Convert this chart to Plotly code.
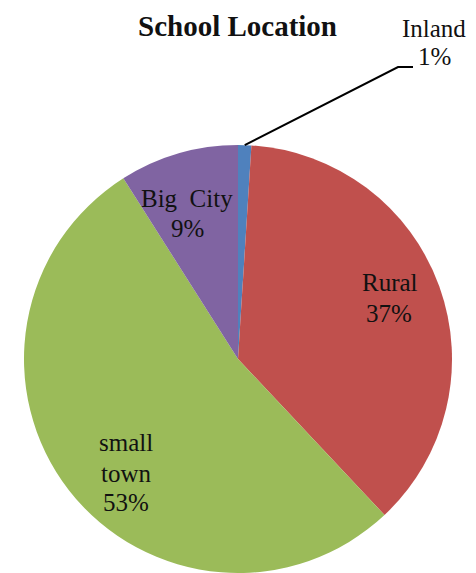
import math
import plotly.graph_objects as go

# School location shares (percent), in drawing order clockwise from 12 o'clock
categories = ["Inland", "Rural", "small town", "Big City"]
shares = [1, 37, 53, 9]
colors = ["#4F81BD", "#C0504D", "#9BBB59", "#8064A2"]

W, H = 476, 573

# Pie geometry in pixels
cx, cy, r = 238, 359, 214

SERIF = "serif"


def px(x, y):
    """Pixel position -> paper coordinates."""
    return x / W, 1 - y / H


fig = go.Figure()
fig.add_trace(
    go.Pie(
        labels=categories,
        values=shares,
        sort=False,
        direction="clockwise",
        rotation=0,
        marker=dict(colors=colors, line=dict(width=0)),
        textinfo="none",
        hoverinfo="label+percent",
        showlegend=False,
        domain=dict(x=[(cx - r) / W, (cx + r) / W], y=[0, 2 * r / H]),
    )
)

# Label anchor points (pixel centres of the name line and the value line)
label_pos = {
    "Inland": ((434, 29), (434, 57)),
    "Rural": ((390, 283), (389, 313)),
    "small town": ((126, 443), (126, 503)),
    "Big City": ((187, 198), (187, 229)),
}

label_font = dict(family=SERIF, size=25, color="#111111")
annotations = []
for cat, val in zip(categories, shares):
    (nx, ny), (vx, vy) = label_pos[cat]
    if cat == "small town":
        words = cat.split(" ")
        for i, w in enumerate(words):
            x, y = px(nx, ny + 30 * i)
            annotations.append(dict(x=x, y=y, xref="paper", yref="paper", text=w,
                                    showarrow=False, font=label_font,
                                    xanchor="center", yanchor="middle"))
    else:
        text = cat.replace(" ", "&nbsp; ")
        x, y = px(nx, ny)
        annotations.append(dict(x=x, y=y, xref="paper", yref="paper", text=text,
                                showarrow=False, font=label_font,
                                xanchor="center", yanchor="middle"))
    x, y = px(vx, vy)
    annotations.append(dict(x=x, y=y, xref="paper", yref="paper", text=f"{val}%",
                            showarrow=False, font=label_font,
                            xanchor="center", yanchor="middle"))

# Title
tx, ty = px(237, 26)
annotations.append(dict(x=tx, y=ty, xref="paper", yref="paper",
                        text="<b>School Location</b>", showarrow=False,
                        font=dict(family=SERIF, size=29, color="#111111"),
                        xanchor="center", yanchor="middle"))

# Leader line from the Inland slice edge to its label
mid = 360 * (shares[0] / 2) / sum(shares)
ex = cx + r * math.sin(math.radians(mid))
ey = cy - r * math.cos(math.radians(mid))
p0 = px(ex, ey)
p1 = px(398, 67)
p2 = px(413, 67)
shapes = [
    dict(type="path", xref="paper", yref="paper",
         path=f"M {p0[0]} {p0[1]} L {p1[0]} {p1[1]} L {p2[0]} {p2[1]}",
         line=dict(color="#000000", width=2))
]

fig.update_layout(
    width=W,
    height=H,
    margin=dict(l=0, r=0, t=0, b=0),
    paper_bgcolor="white",
    plot_bgcolor="white",
    annotations=annotations,
    shapes=shapes,
)

fig.write_html("out.html")
